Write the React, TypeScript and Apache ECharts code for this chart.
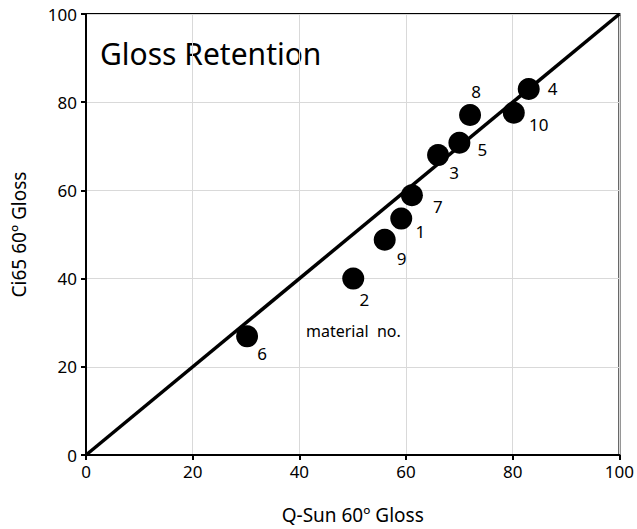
import React, { useEffect, useRef } from "react";
import * as echarts from "echarts";

const materialNo = ["1", "2", "3", "4", "5", "6", "7", "8", "9", "10"];
const qsunGloss = [59.1, 50.1, 66.0, 83.0, 70.0, 30.2, 61.1, 72.0, 56.0, 80.2];
const ci65Gloss = [53.6, 40.0, 68.0, 83.0, 70.8, 26.9, 58.9, 77.1, 48.8, 77.6];
const labelOffsets: [number, number][] = [
  [19, 13], [11, 21], [16, 17], [24, 0], [23, 7], [15, 17], [26, 11], [6, -23], [17, 19], [25, 12],
];
const lineX = [0, 100];
const lineY = [0, 100];
const axisTicks = { min: 0, max: 100, interval: 20 };

const FONT = "'Noto Sans', sans-serif";

export default function App() {
  const ref = useRef<HTMLDivElement>(null);
  useEffect(() => {
    if (!ref.current) return;
    const chart = echarts.init(ref.current, undefined, { renderer: "svg" });
    const axisCommon = {
      type: "value" as const,
      min: axisTicks.min,
      max: axisTicks.max,
      interval: axisTicks.interval,
      axisLine: { show: true, lineStyle: { color: "#000", width: 2 } },
      axisTick: { show: true, length: 5, lineStyle: { color: "#000", width: 2 } },
      splitLine: { show: true, lineStyle: { color: "#d9d9d9", width: 1 } },
      axisLabel: { color: "#000", fontSize: 17, fontFamily: FONT },
      nameLocation: "middle" as const,
      nameTextStyle: { color: "#000", fontSize: 19, fontFamily: FONT },
    };
    chart.setOption({
      animation: false,
      backgroundColor: "#fff",
      grid: {
        left: 86,
        right: 14,
        top: 14,
        bottom: 73,
        show: true,
        borderColor: "#000",
        borderWidth: 2,
        backgroundColor: "transparent",
      },
      xAxis: { ...axisCommon, name: "Q-Sun 60º Gloss", nameGap: 50, axisLabel: { ...axisCommon.axisLabel, margin: 8 } },
      yAxis: { ...axisCommon, name: "Ci65 60º Gloss", nameGap: 58, axisLabel: { ...axisCommon.axisLabel, margin: 9 } },
      graphic: [
        {
          type: "text",
          left: 100,
          top: 38,
          style: { text: "Gloss Retention", fontSize: 30, fontFamily: FONT, fill: "#000" },
        },
        {
          type: "text",
          left: 306,
          top: 323,
          style: { text: "material  no.", fontSize: 16, fontFamily: FONT, fill: "#000" },
        },
      ],
      series: [
        {
          type: "line",
          data: lineX.map((x, i) => [x, lineY[i]]),
          symbol: "none",
          lineStyle: { color: "#000", width: 3.5 },
          z: 2,
        },
        {
          type: "scatter",
          symbolSize: 22,
          itemStyle: { color: "#000", opacity: 1 },
          z: 3,
          data: qsunGloss.map((x, i) => ({
            value: [x, ci65Gloss[i]],
            name: materialNo[i],
            label: {
              show: true,
              formatter: materialNo[i],
              position: "inside",
              offset: labelOffsets[i],
              color: "#000",
              opacity: 1,
              fontSize: 17,
              fontFamily: FONT,
            },
          })),
        },
      ],
    });
    return () => chart.dispose();
  }, []);
  return (
    <div
      ref={ref}
      style={{ position: "absolute", left: 0, top: 0, width: 637, height: 529 }}
    />
  );
}
